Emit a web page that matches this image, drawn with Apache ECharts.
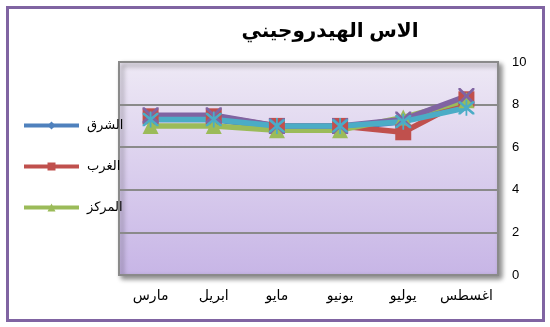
<!DOCTYPE html>
<html><head><meta charset="utf-8">
<script src="https://cdn.jsdelivr.net/npm/echarts@6/dist/echarts.min.js"></script>
<style>html,body{margin:0;padding:0;background:#fff}#c{width:550px;height:327px}</style>
</head><body><div id="c"></div>
<script>
var categories = ['مارس','ابريل','مايو','يونيو','يوليو','اغسطس'];
var east   = [7.3, 7.3, 6.9, 6.9, 7.2, 8.1];
var west   = [7.45, 7.45, 7.0, 7.0, 6.7, 8.25];
var center = [7.0, 7.0, 6.8, 6.8, 7.4, 8.2];
var extra1 = [7.5, 7.5, 7.0, 7.0, 7.3, 8.4];
var extra2 = [7.3, 7.3, 7.0, 7.0, 7.2, 7.85];
var yTicks = [0, 2, 4, 6, 8, 10];
var seriesNames = ['الشرق','الغرب','المركز'];
var titleText = 'الاس الهيدروجيني';

var FONT = 'Liberation Sans, Arial, DejaVu Sans, sans-serif';
var xPath = 'path://M0,0 L2.5,0 L10,7.5 L17.5,0 L20,0 L20,2.5 L12.5,10 L20,17.5 L20,20 L17.5,20 L10,12.5 L2.5,20 L0,20 L0,17.5 L7.5,10 L0,2.5 Z';
var starPath = 'path://M0,0 L2.5,0 L10,7.5 L17.5,0 L20,0 L20,2.5 L12.5,10 L20,17.5 L20,20 L17.5,20 L10,12.5 L2.5,20 L0,20 L0,17.5 L7.5,10 L0,2.5 Z M8.9,-2 L11.1,-2 L11.1,22 L8.9,22 Z';
var colors = ['#4F81BD', '#C0504D', '#9BBB59', '#8064A2', '#4BACC6'];

function mk(name, data, color, symbol, size) {
  return {
    name: name, type: 'line', data: data, symbol: symbol, symbolSize: size,
    lineStyle: {color: color, width: 5.5}, itemStyle: {color: color},
    emphasis: {disabled: true}, animation: false
  };
}

var chart = echarts.init(document.getElementById('c'));
chart.setOption({
  animation: false,
  title: {text: titleText, left: 325, top: 16, textAlign: 'center',
    textStyle: {fontFamily: FONT, fontSize: 20, fontWeight: 'bold', color: '#000'}},
  legend: {
    data: seriesNames.map(function(n){ return {name: n}; }),
    orient: 'vertical', left: 17, top: 114, itemGap: 28,
    itemWidth: 55, itemHeight: 10,
    lineStyle: {width: 4},
    textStyle: {fontFamily: FONT, fontSize: 13, color: '#000', padding: [0, 0, 0, 3]}
  },
  grid: {
    left: 119, right: 52, top: 62, bottom: 52, show: true,
    backgroundColor: new echarts.graphic.LinearGradient(0, 0, 0, 1, [
      {offset: 0, color: '#eee9f5'}, {offset: 1, color: '#c7b5e6'}]),
    borderColor: '#8a8a8a', borderWidth: 2,
    shadowBlur: 5, shadowColor: 'rgba(0,0,0,0.45)', shadowOffsetX: 3, shadowOffsetY: 3
  },
  xAxis: {
    type: 'category', data: categories, boundaryGap: true,
    axisLine: {show: false}, axisTick: {show: false},
    axisLabel: {fontFamily: FONT, fontSize: 14, color: '#000', margin: 14, interval: 0}
  },
  yAxis: {
    type: 'value', position: 'right', min: 0, max: 10, interval: 2,
    axisLine: {show: false}, axisTick: {show: false},
    splitLine: {lineStyle: {color: '#8a8a8a', width: 2}},
    axisLabel: {fontFamily: FONT, fontSize: 13, color: '#000', margin: 14,
      formatter: function(v){ return yTicks.indexOf(v) >= 0 ? String(v) : ''; }}
  },
  series: [
    mk(seriesNames[0], east, colors[0], 'diamond', 12),
    mk(seriesNames[1], west, colors[1], 'rect', 16),
    mk(seriesNames[2], center, colors[2], 'triangle', 16),
    mk('s4', extra1, colors[3], xPath, 16),
    mk('s5', extra2, colors[4], starPath, 16)
  ],
  graphic: [{
    type: 'rect', shape: {x: 7.5, y: 7.5, width: 536, height: 313},
    style: {fill: 'none', stroke: '#8064A2', lineWidth: 3}, silent: true
  }]
});
</script></body></html>
